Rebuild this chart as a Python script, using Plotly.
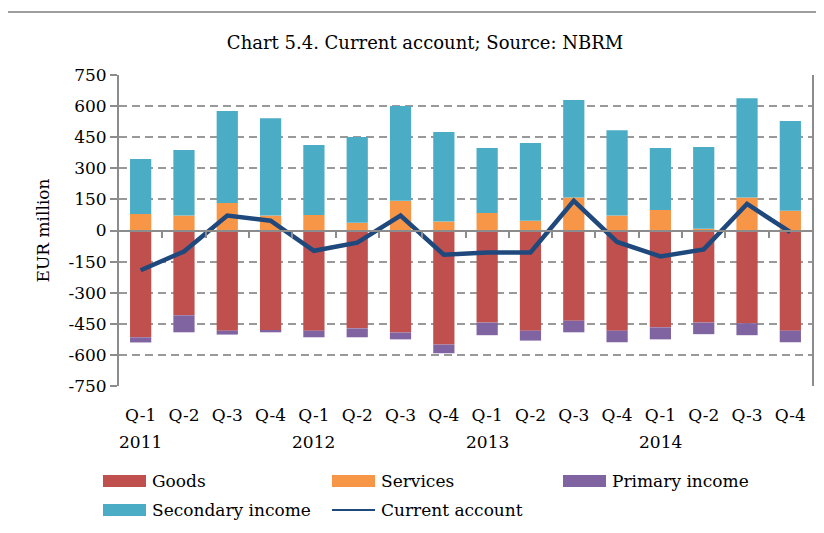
import plotly.graph_objects as go

# quarterly data, EUR million
quarters = ["Q-1", "Q-2", "Q-3", "Q-4"] * 4
years = ["2011", "", "", "", "2012", "", "", "", "2013", "", "", "", "2014", "", "", ""]
goods = [-515, -409, -483, -483, -483, -472, -492, -550, -444, -483, -435, -483, -467, -444, -447, -483]
services = [80, 72, 133, 72, 75, 37, 143, 43, 85, 47, 159, 72, 99, 8, 159, 95]
primary = [-25, -82, -19, -8, -32, -43, -33, -42, -61, -48, -56, -56, -58, -56, -58, -56]
secondary = [265, 316, 443, 470, 337, 414, 457, 432, 313, 375, 470, 412, 299, 395, 479, 433]
current = [-192, -101, 72, 47, -98, -59, 72, -117, -106, -106, 143, -55, -125, -91, 128, -8]
y_ticks = [750, 600, 450, 300, 150, 0, -150, -300, -450, -600, -750]

FONT = "DejaVu Serif"
GRAY = "#8c8c8c"
colors = {"Goods": "#C0504D", "Services": "#F79646", "Primary income": "#8064A2",
          "Secondary income": "#4BACC6", "Current account": "#1F497D"}

# page has an 8px body margin, so work in page pixels and shift
OFF = 8
L, R, T, B = 119, 812, 75, 386   # plot area in page pixels
def px_x(x):
    return (x - L) / (R - L)
def px_y(y):
    return (B - y) / (B - T)

x = list(range(len(quarters)))

fig = go.Figure()
for name, vals in [("Goods", goods), ("Services", services),
                   ("Primary income", primary), ("Secondary income", secondary)]:
    fig.add_trace(go.Bar(x=x, y=vals, name=name, marker_color=colors[name],
                         marker_line_width=0))

fig.add_trace(go.Scatter(x=x, y=current, name="Current account", mode="lines",
                         line=dict(color=colors["Current account"], width=4.5),
                         xaxis="x2"))

fig.update_layout(
    width=824, height=533,
    margin=dict(l=L - OFF, r=824 - R + OFF, t=T - OFF, b=533 - B + OFF),
    paper_bgcolor="white", plot_bgcolor="white",
    barmode="relative", bargap=0.51,
    showlegend=False,
    font=dict(family=FONT, size=17, color="black"),
    title=dict(text="Chart 5.4. Current account; Source: NBRM", x=px_x(425), xref="paper",
               xanchor="center", y=1 - (43 - OFF) / 533, yanchor="middle",
               font=dict(family=FONT, size=18)),
    xaxis=dict(range=[-0.5, len(x) - 0.5], tickvals=x, ticktext=quarters,
               showgrid=False, zeroline=False, showline=False, ticks="",
               ticklabelstandoff=17, tickfont=dict(size=17)),
    xaxis2=dict(overlaying="x", anchor="free", position=0.5, side="bottom",
                range=[-0.5, len(x) - 0.5], tickvals=[i + 0.5 for i in x[:-1]],
                showticklabels=False, ticks="outside", ticklen=6, tickwidth=2, tickcolor=GRAY,
                showline=True, linecolor=GRAY, linewidth=2, showgrid=False, zeroline=False),
    yaxis=dict(range=[-750, 750], tickvals=y_ticks, ticktext=[str(v) for v in y_ticks],
               showgrid=True, gridcolor="#999999", griddash="8px,5px", gridwidth=2,
               zeroline=False, showline=True, linecolor=GRAY, linewidth=2, mirror=True,
               ticks="outside", ticklen=7, tickwidth=2, tickcolor=GRAY,
               title=dict(text="EUR million", standoff=14, font=dict(size=17)),
               tickfont=dict(size=17)),
)

# year labels below the Q-1 ticks
for i, yr in enumerate(years):
    if yr:
        fig.add_annotation(x=i, y=px_y(442), xref="x", yref="paper", text=yr,
                           showarrow=False, xanchor="center", yanchor="middle",
                           font=dict(size=17))

# outer frame of the chart
fig.add_shape(type="rect", xref="paper", yref="paper", x0=px_x(7), x1=px_x(850),
              y0=px_y(570), y1=px_y(12), line=dict(color="#7f7f7f", width=1.5),
              fillcolor="rgba(0,0,0,0)", layer="below")

# legend drawn by hand to get the wide swatches
legend_items = [("Goods", 103, 481), ("Services", 332, 481), ("Primary income", 563, 481),
                ("Secondary income", 103, 510), ("Current account", 332, 510)]
for name, lx, ly in legend_items:
    if name == "Current account":
        fig.add_shape(type="line", xref="paper", yref="paper", x0=px_x(lx), x1=px_x(lx + 43),
                      y0=px_y(ly), y1=px_y(ly), line=dict(color=colors[name], width=2))
    else:
        fig.add_shape(type="rect", xref="paper", yref="paper", x0=px_x(lx), x1=px_x(lx + 43),
                      y0=px_y(ly + 6), y1=px_y(ly - 6), line_width=0, fillcolor=colors[name])
    fig.add_annotation(x=px_x(lx + 47), y=px_y(ly), xref="paper", yref="paper", text=name,
                       showarrow=False, xanchor="left", yanchor="middle", font=dict(size=17))

fig.write_html("out.html")
